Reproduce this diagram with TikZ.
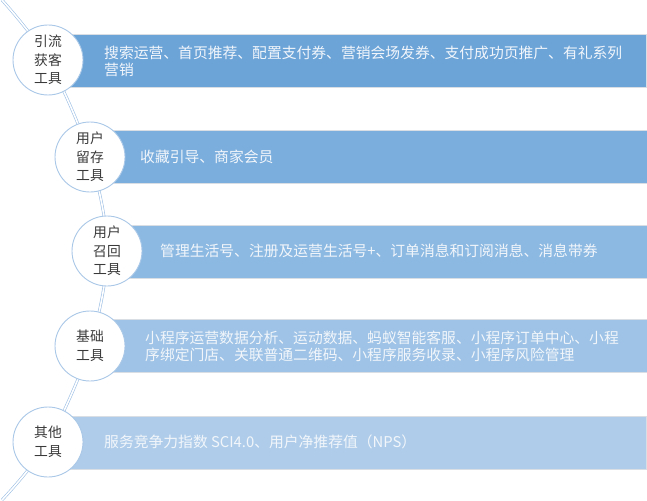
\documentclass[tikz,border=0pt]{standalone}
\usepackage{fontspec}
\setmainfont{Noto Sans CJK SC}
\begin{document}
\begin{tikzpicture}[x=1pt,y=-1pt,
  bar/.style={draw=barline, line width=0.8pt, anchor=north west, minimum height=53pt, minimum width=598pt, inner sep=0pt},
  bartext/.style={anchor=west, align=left, text=bartxt, font=\fontsize{14.8}{17.5}\selectfont, inner sep=0pt},
  toolcircle/.style={circle, draw=circ, line width=0.9pt, fill=white, minimum size=70pt, inner sep=0pt, align=center, text=circtxt, font=\fontsize{13.8}{18.5}\selectfont},
  spine/.style={draw=spineblue, line width=0.6pt, double=white, double distance=1.6pt}]
\definecolor{barline}{HTML}{D9DEE5}
\definecolor{bartxt}{HTML}{F2F6FB}
\definecolor{circ}{HTML}{A9C7E7}
\definecolor{circtxt}{HTML}{3A3A3A}
\definecolor{spineblue}{HTML}{9DBFE4}
\definecolor{cA}{HTML}{6CA4D8}
\definecolor{cB}{HTML}{7BAEDD}
\definecolor{cC}{HTML}{8CB9E2}
\definecolor{cD}{HTML}{9EC3E6}
\definecolor{cE}{HTML}{AFCDEA}
\useasboundingbox (0,0) rectangle (647,500);
% bars
\node[bar, fill=cA] (b1) at (48,34) {};
\node[bar, fill=cB] (b2) at (90,130) {};
\node[bar, fill=cC] (b3) at (107,225) {};
\node[bar, fill=cD] (b4) at (90,319) {};
\node[bar, fill=cE] (b5) at (48,416) {};
% bar texts
\node[bartext] (t1) at (104,61.5) {搜索运营、首页推荐、配置支付券、营销会场发券、支付成功页推广、有礼系列\\营销};
\node[bartext] (t2) at (140,157) {收藏引导、商家会员};
\node[bartext] (t3) at (160,251) {管理生活号、注册及运营生活号+、订单消息和订阅消息、消息带券};
\node[bartext] (t4) at (145,346.5) {小程序运营数据分析、运动数据、蚂蚁智能客服、小程序订单中心、小程\\序绑定门店、关联普通二维码、小程序服务收录、小程序风险管理};
\node[bartext] (t5) at (104,442) {服务竞争力指数 SCI4.0、用户净推荐值（NPS）};
% spine
\coordinate (top) at (2,0);
\coordinate (bot) at (2,500);
\coordinate (p1) at (48,60);
\coordinate (p2) at (90,157);
\coordinate (p3) at (107,251);
\coordinate (p4) at (90,346);
\coordinate (p5) at (48,442);
\draw[spine] plot[smooth, tension=0.55] coordinates {(top) (p1) (p2) (p3) (p4) (p5) (bot)};
% circles
\node[toolcircle] (k1) at (p1) {引流\\获客\\工具};
\node[toolcircle] (k2) at (p2) {用户\\留存\\工具};
\node[toolcircle] (k3) at (p3) {用户\\召回\\工具};
\node[toolcircle] (k4) at (p4) {基础\\工具};
\node[toolcircle] (k5) at (p5) {其他\\工具};
\end{tikzpicture}
\end{document}
